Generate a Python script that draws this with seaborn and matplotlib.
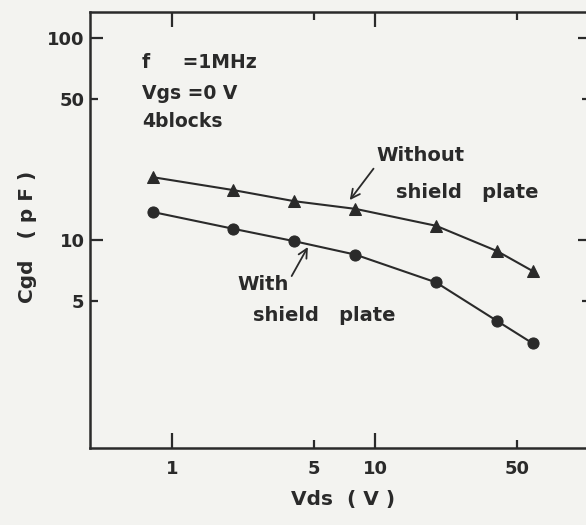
import matplotlib
matplotlib.use("Agg")
import matplotlib.pyplot as plt
from matplotlib.ticker import FixedLocator, FixedFormatter
import seaborn as sns
import pandas as pd

# Gate-drain capacitance versus drain-source voltage
vds = [0.8, 2, 4, 8, 20, 40, 60]
cgd_without_shield = [20.5, 17.7, 15.6, 14.3, 11.8, 8.85, 7.05]
cgd_with_shield = [13.8, 11.4, 9.9, 8.5, 6.2, 4.0, 3.1]

x_major = [1, 10]
x_minor = [5, 50]
y_major = [10, 100]
y_minor = [5, 50]

ink = "#2a2a2a"
paper = "#f3f3f0"

sns.set_theme(style="ticks")
plt.rcParams["font.family"] = ["DejaVu Sans"]
plt.rcParams["font.weight"] = "bold"
plt.rcParams["text.color"] = ink
plt.rcParams["axes.labelcolor"] = ink
plt.rcParams["xtick.color"] = ink
plt.rcParams["ytick.color"] = ink

fig = plt.figure(figsize=(5.86, 5.25), dpi=100, facecolor=paper)
ax = fig.add_axes([90 / 586, 77 / 525, 500 / 586, 436 / 525])
ax.set_facecolor(paper)

df_without = pd.DataFrame({"Vds": vds, "Cgd": cgd_without_shield})
df_with = pd.DataFrame({"Vds": vds, "Cgd": cgd_with_shield})

sns.lineplot(data=df_without, x="Vds", y="Cgd", ax=ax, color=ink, lw=1.5,
             marker="^", markersize=9, markeredgecolor=ink, markerfacecolor=ink)
sns.lineplot(data=df_with, x="Vds", y="Cgd", ax=ax, color=ink, lw=1.5,
             marker="o", markersize=8, markeredgecolor=ink, markerfacecolor=ink)

ax.set_xscale("log")
ax.set_yscale("log")
ax.set_xlim(0.392, 115)
ax.set_ylim(0.944, 134)

ax.xaxis.set_major_locator(FixedLocator(x_major))
ax.xaxis.set_minor_locator(FixedLocator(x_minor))
ax.xaxis.set_major_formatter(FixedFormatter([str(v) for v in x_major]))
ax.xaxis.set_minor_formatter(FixedFormatter([str(v) for v in x_minor]))
ax.yaxis.set_major_locator(FixedLocator(y_major))
ax.yaxis.set_minor_locator(FixedLocator(y_minor))
ax.yaxis.set_major_formatter(FixedFormatter([str(v) for v in y_major]))
ax.yaxis.set_minor_formatter(FixedFormatter([str(v) for v in y_minor]))

ax.tick_params(axis="both", which="both", direction="in", top=True, right=True,
               width=1.6, labelsize=13, colors=ink)
ax.tick_params(axis="x", which="major", length=11, pad=8.5)
ax.tick_params(axis="x", which="minor", length=6, pad=8.5)
ax.tick_params(axis="y", which="major", length=9, pad=4)
ax.tick_params(axis="y", which="minor", length=6, pad=4)
for lab in ax.get_xticklabels(which="both") + ax.get_yticklabels(which="both"):
    lab.set_fontweight("bold")

for sp in ax.spines.values():
    sp.set_linewidth(1.8)
    sp.set_color(ink)

ax.set_xlabel("Vds  ( V )", fontsize=14.5, fontweight="bold", va="center")
ax.set_ylabel("Cgd   ( p F )", fontsize=14.5, fontweight="bold", va="center")
ax.xaxis.set_label_coords(0.506, -0.119)
ax.yaxis.set_label_coords(-0.124, 0.484)

# Measurement conditions
cond_kw = dict(transform=ax.transAxes, fontsize=13.5, fontweight="bold",
               ha="left", va="center", color=ink)
ax.text(0.104, 0.885, "f     =1MHz", **cond_kw)
ax.text(0.104, 0.814, "Vgs =0 V", **cond_kw)
ax.text(0.104, 0.748, "4blocks", **cond_kw)

# Curve labels with pointers
lab_kw = dict(xycoords="data", textcoords="axes fraction", fontsize=14,
              fontweight="bold", ha="left", va="center", color=ink)
ax.annotate("Without", xy=(7.5, 15.8), xytext=(0.572, 0.670), **lab_kw,
            arrowprops=dict(arrowstyle="->", color=ink, lw=1.3,
                            shrinkA=0, shrinkB=0, relpos=(0.0, 0.0),
                            mutation_scale=16))
ax.text(0.612, 0.587, "shield   plate", transform=ax.transAxes, fontsize=14,
        fontweight="bold", ha="left", va="center", color=ink)
ax.annotate("With", xy=(4.66, 9.27), xytext=(0.294, 0.374), **lab_kw,
            arrowprops=dict(arrowstyle="->", color=ink, lw=1.3,
                            shrinkA=0, shrinkB=0, relpos=(1.05, 0.9),
                            mutation_scale=16))
ax.text(0.326, 0.305, "shield   plate", transform=ax.transAxes, fontsize=14,
        fontweight="bold", ha="left", va="center", color=ink)

fig.savefig("out.png", dpi=100, facecolor=paper)
